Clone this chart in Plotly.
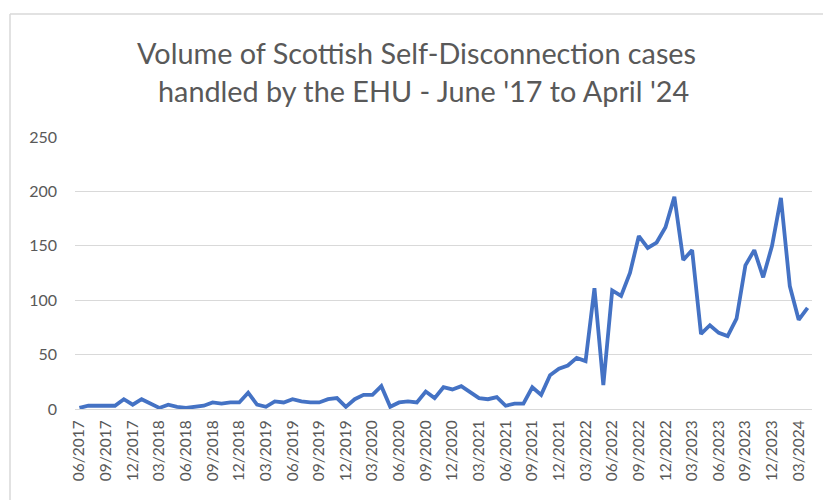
import plotly.graph_objects as go

# Monthly categories 06/2017 .. 04/2024
months = []
y, m = 2017, 6
while (y, m) <= (2024, 4):
    months.append(f"{m:02d}/{y}")
    m += 1
    if m > 12:
        m = 1
        y += 1

cases = [1, 3, 3, 3, 3, 9, 4, 9, 5, 1, 4, 2, 1, 2, 3, 6, 5, 6, 6, 15,
         4, 2, 7, 6, 9, 7, 6, 6, 9, 10, 2, 9, 13, 13, 21, 2, 6, 7, 6, 16,
         10, 20, 18, 21, 15, 10, 9, 11, 3, 5, 5, 20, 13, 31, 37, 40, 47, 44, 111, 22,
         109, 104, 125, 159, 148, 153, 167, 195, 137, 146, 69, 77, 70, 67, 83, 132, 146, 121, 150, 194,
         113, 82, 93]

tick_labels = months[::3]

title_line1 = "Volume of Scottish Self-Disconnection cases"
title_line2 = "handled by the EHU - June '17 to April '24"

grey = "#595959"
fig = go.Figure()
fig.add_trace(go.Scatter(x=months, y=cases, mode="lines",
                         line=dict(color="#4472C4", width=3.8)))

fig.update_layout(
    width=823, height=500,
    margin=dict(l=75, r=11, t=137, b=91),
    paper_bgcolor="white", plot_bgcolor="white",
    showlegend=False,
    font=dict(family="Lato, Carlito, sans-serif", color=grey),
    annotations=[
        dict(text=title_line1, xref="paper", yref="paper", x=(416 - 75) / 737, y=(409 - 53) / 272,
             xanchor="center", yanchor="middle", showarrow=False,
             font=dict(size=28.8, color=grey, family="Lato")),
        dict(text=title_line2, xref="paper", yref="paper", x=(423 - 75) / 737, y=(409 - 91) / 272,
             xanchor="center", yanchor="middle", showarrow=False,
             font=dict(size=28.8, color=grey, family="Lato")),
    ],
    shapes=[
        dict(type="line", xref="paper", yref="paper",
             x0=(10 - 75) / 737, x1=(830 - 75) / 737, y0=(409 - 14) / 272, y1=(409 - 14) / 272,
             line=dict(color="#d9d9d9", width=1.5)),
        dict(type="line", xref="paper", yref="paper",
             x0=(10 - 75) / 737, x1=(10 - 75) / 737, y0=(409 - 14) / 272, y1=(409 - 510) / 272,
             line=dict(color="#d9d9d9", width=1.5)),
    ],
)
fig.update_xaxes(type="category", categoryorder="array", categoryarray=months,
                 range=[-0.5, len(months) - 0.5],
                 tickmode="array", tickvals=tick_labels, ticktext=tick_labels,
                 tickangle=-90, tickfont=dict(size=15.5, color=grey, family="Lato"),
                 showgrid=False, showline=True, linecolor="#d9d9d9", linewidth=1.3,
                 ticks="", ticklabelstandoff=4)
fig.update_yaxes(range=[0, 250], dtick=50, showgrid=True, gridcolor="#d9d9d9", gridwidth=1.3,
                 zeroline=False, tickfont=dict(size=16, color=grey, family="Lato"),
                 ticks="", ticklabelstandoff=17)

fig.write_html("out.html")
